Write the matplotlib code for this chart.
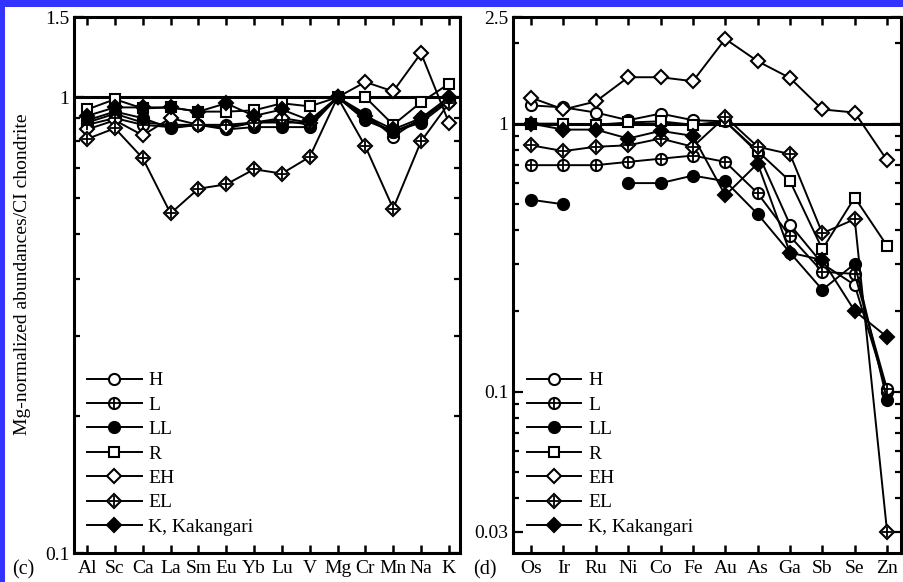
import matplotlib
matplotlib.use("Agg")
import matplotlib.pyplot as plt
import numpy as np
from matplotlib.patches import Rectangle
from matplotlib.ticker import FixedLocator, NullFormatter

plt.rcParams['font.family'] = ['Liberation Serif', 'DejaVu Serif']

# panel (c): lithophile / moderately volatile elements
elems_c = ['Al', 'Sc', 'Ca', 'La', 'Sm', 'Eu', 'Yb', 'Lu', 'V', 'Mg', 'Cr', 'Mn', 'Na', 'K']
H_c = [0.88, 0.92, 0.88, 0.87, 0.87, 0.855, 0.88, 0.88, 0.88, 1.0, 0.92, 0.82, 0.90, 0.98]
L_c = [0.87, 0.90, 0.87, 0.86, 0.87, 0.87, 0.88, 0.89, 0.87, 1.0, 0.90, 0.84, 0.89, 0.99]
LL_c = [0.89, 0.93, 0.90, 0.855, 0.87, 0.85, 0.86, 0.86, 0.86, 1.0, 0.89, 0.84, 0.88, 0.98]
R_c = [0.94, 0.99, 0.945, 0.95, 0.93, 0.93, 0.936, 0.97, 0.955, 1.0, 1.0, 0.87, 0.975, 1.07]
EH_c = [0.85, 0.89, 0.825, 0.90, 0.87, 0.86, 0.88, 0.90, 0.88, 1.0, 1.08, 1.03, 1.25, 0.88]
EL_c = [0.81, 0.855, 0.735, 0.556, 0.63, 0.644, 0.695, 0.68, 0.74, 1.0, 0.78, 0.57, 0.80, 0.97]
K_c = [0.91, 0.95, 0.95, 0.95, 0.93, 0.97, 0.91, 0.94, 0.89, 1.0, 0.91, 0.85, 0.90, 1.0]

# panel (d): siderophile / volatile elements
elems_d = ['Os', 'Ir', 'Ru', 'Ni', 'Co', 'Fe', 'Au', 'As', 'Ga', 'Sb', 'Se', 'Zn']
H_d = [1.17, 1.15, 1.10, 1.03, 1.09, 1.03, 1.02, 0.78, 0.42, 0.30, 0.25, 0.10]
L_d = [0.70, 0.70, 0.70, 0.72, 0.74, 0.76, 0.72, 0.55, 0.38, 0.28, 0.275, 0.102]
LL_d = [0.52, 0.50, np.nan, 0.60, 0.60, 0.64, 0.61, 0.46, 0.33, 0.24, 0.30, 0.093]
R_d = [1.0, 1.0, 0.99, 1.01, 1.02, 0.99, 1.02, 0.79, 0.61, 0.34, 0.53, 0.35]
EH_d = [1.25, 1.13, 1.21, 1.49, 1.49, 1.44, 2.07, 1.71, 1.48, 1.13, 1.10, 0.73]
EL_d = [0.83, 0.79, 0.82, 0.83, 0.88, 0.82, 1.06, 0.82, 0.77, 0.39, 0.44, 0.03]
K_d = [1.0, 0.95, 0.95, 0.88, 0.94, 0.90, 0.54, 0.71, 0.33, 0.31, 0.20, 0.16]

labels = ['H', 'L', 'LL', 'R', 'EH', 'EL', 'K, Kakangari']
# marker, face, crossed?
styles = [('o', 'white', False), ('o', 'white', True), ('o', 'black', False),
          ('s', 'white', False), ('D', 'white', False), ('D', 'white', True),
          ('D', 'black', False)]
sizes = {'o': 8, 's': 7.5, 'D': 7.5}

fig = plt.figure(figsize=(9.04, 5.82), dpi=100)
fig.patch.set_facecolor('#3333ff')
fig.patches.append(Rectangle((5 / 904, 0), 1, 1 - 7 / 582, transform=fig.transFigure,
                             facecolor='white', edgecolor='none', zorder=-5))

ax1 = fig.add_axes([74 / 904, 29 / 582, 386 / 904, 536 / 582])
ax2 = fig.add_axes([513 / 904, 29 / 582, 388 / 904, 536 / 582])


def draw(ax, elems, series):
    x = np.arange(len(elems))
    handles = []
    for vals, (m, fc, crossed) in zip(series, styles):
        ms = sizes[m]
        h1, = ax.plot(x, vals, color='black', lw=1.4, marker=m, ms=ms,
                      mfc=fc, mec='black', mew=1.5, zorder=3)
        if crossed:
            h2, = ax.plot(x, vals, ls='none', marker='+', ms=ms * 0.95,
                          mec='black', mew=1.3, zorder=4)
            handles.append((h1, h2))
        else:
            handles.append(h1)
    ax.axhline(1.0, color='black', lw=2.2, zorder=2)
    ax.set_yscale('log')
    ax.set_xticks(x)
    ax.set_xticklabels(elems, fontsize=14)
    ax.tick_params(axis='x', which='major', direction='in', top=True, length=6, width=1.8, pad=5)
    ax.tick_params(axis='y', which='both', direction='in', right=True, width=1.6, labelsize=14)
    ax.tick_params(axis='y', which='major', length=7)
    ax.tick_params(axis='y', which='minor', length=4)
    for s in ax.spines.values():
        s.set_linewidth(2.2)
    ax.legend(handles, labels, loc='lower left', frameon=False, fontsize=14,
              handlelength=2.8, handletextpad=0.35, labelspacing=0.35,
              borderpad=0, borderaxespad=0, numpoints=1)
    return ax


draw(ax1, elems_c, [H_c, L_c, LL_c, R_c, EH_c, EL_c, K_c])
ax1.set_xlim(-0.47, 13.4)
ax1.set_ylim(0.1, 1.5)
ax1.yaxis.set_major_locator(FixedLocator([0.1, 1, 1.5]))
ax1.set_yticklabels(['0.1', '1', '1.5'])
ax1.yaxis.set_minor_locator(FixedLocator([0.2, 0.3, 0.4, 0.5, 0.6, 0.7, 0.8, 0.9]))
ax1.yaxis.set_minor_formatter(NullFormatter())
ax1.set_ylabel('Mg-normalized abundances/CI chondrite', fontsize=14)
ax1.yaxis.set_label_coords(-0.112, 0.52)
ax1.get_legend().set_bbox_to_anchor((0.034, 0.032))

draw(ax2, elems_d, [H_d, L_d, LL_d, R_d, EH_d, EL_d, K_d])
ax2.set_xlim(-0.56, 11.43)
ax2.set_ylim(0.025, 2.5)
ax2.yaxis.set_major_locator(FixedLocator([0.03, 0.1, 1, 2.5]))
ax2.set_yticklabels(['0.03', '0.1', '1', '2.5'])
ax2.yaxis.set_minor_locator(FixedLocator([0.04, 0.05, 0.06, 0.07, 0.08, 0.09,
                                          0.2, 0.3, 0.4, 0.5, 0.6, 0.7, 0.8, 0.9, 2]))
ax2.yaxis.set_minor_formatter(NullFormatter())
ax2.get_legend().set_bbox_to_anchor((0.036, 0.032))

fig.text(12 / 904, 1 - 570 / 582, '(c)', fontsize=14.5, va='center')
fig.text(473 / 904, 1 - 570 / 582, '(d)', fontsize=14.5, va='center')

plt.savefig('out.png', dpi=100, facecolor=fig.get_facecolor())
